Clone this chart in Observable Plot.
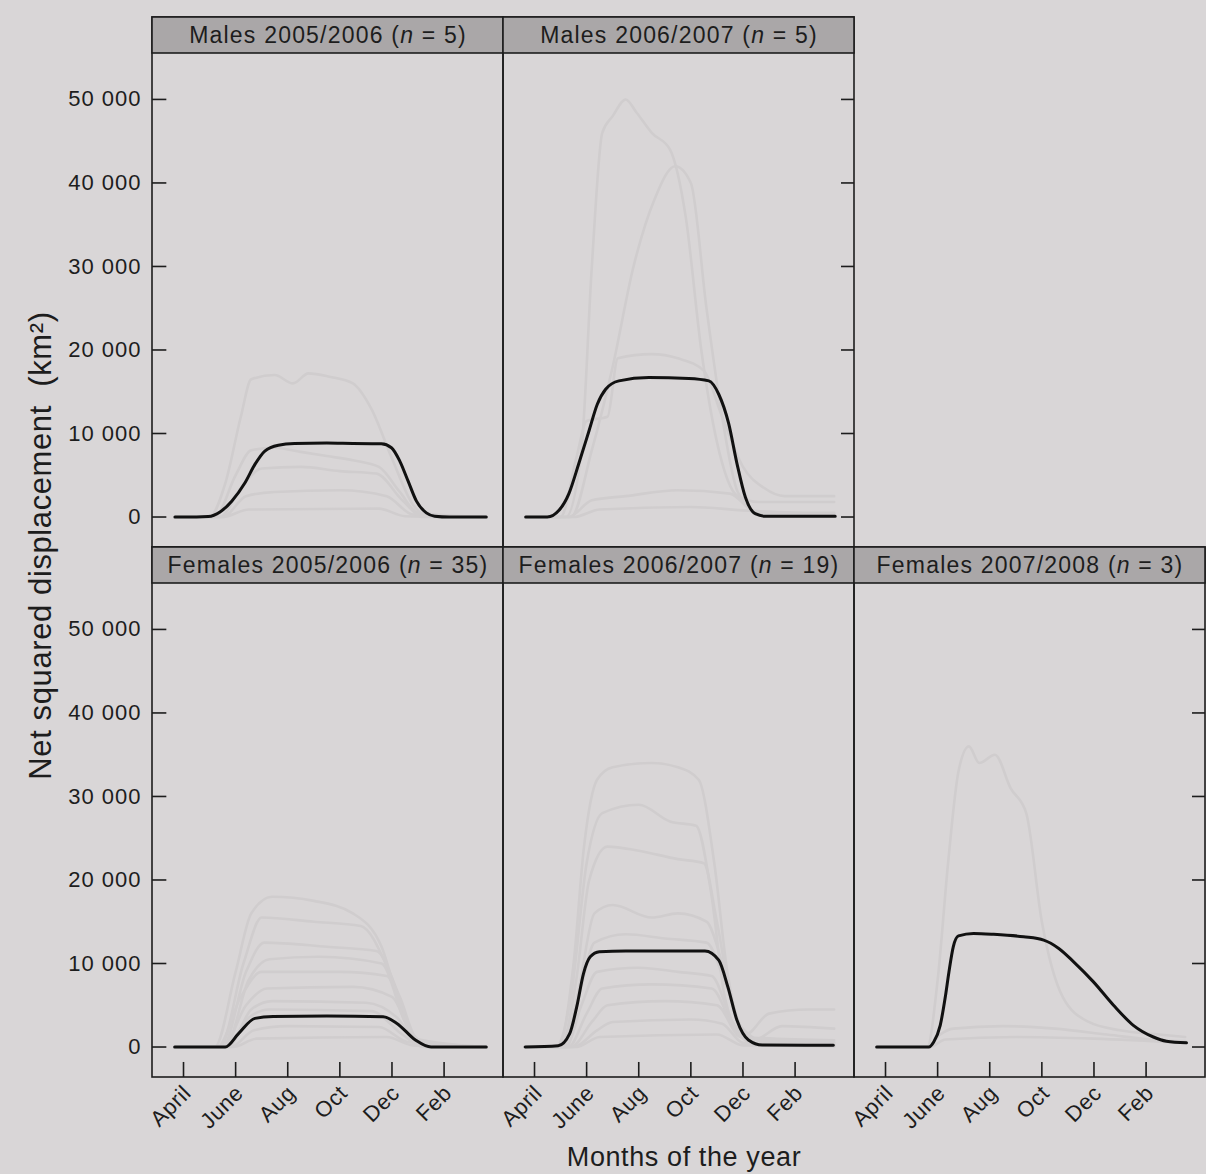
<!DOCTYPE html>
<html>
<head>
<meta charset="utf-8">
<script src="https://cdn.jsdelivr.net/npm/d3@7"></script>
<script src="https://cdn.jsdelivr.net/npm/@observablehq/plot@0.6"></script>
<style>
  html, body { margin: 0; padding: 0; background: #d9d6d7; overflow: hidden; }
  #chart { width: 1206px; height: 1174px; }
  .strip-label text { letter-spacing: 1.2px; }
  .ytick-label text { letter-spacing: 1px; }
  .xtick-label text { letter-spacing: 0.6px; }
  .axis-title text { letter-spacing: 0.6px; }
</style>
</head>
<body>
<div id="chart"></div>
<script>
// ---- panels ----
const panelNames = ["Males 2005/2006", "Males 2006/2007", "Females 2005/2006", "Females 2006/2007", "Females 2007/2008"];
const panelN = [5, 5, 35, 19, 3];
const panelCol = [0, 1, 0, 1, 2];
const panelRow = [0, 0, 1, 1, 1];

// ---- axes ----
// x: months since 1 April
const monthTicks = [0, 2, 4, 6, 8, 10];
const monthLabels = ["April", "June", "Aug", "Oct", "Dec", "Feb"];
const nsdTicks = [0, 10000, 20000, 30000, 40000, 50000];

// ---- fitted mean NSD curves (month, km²) ----
const meanMales0506 = [[-0.33,0],[0.5,0],[0.95,50],[1.4,600],[1.85,1900],[2.36,4100],[2.74,6300],[3.12,7900],[3.64,8600],[4.26,8800],[5.5,8850],[6.5,8800],[7.59,8770],[7.98,8300],[8.3,6700],[8.62,4300],[8.94,1900],[9.32,500],[9.64,100],[10.2,0],[11.62,0]];
const meanMales0607 = [[-0.34,0],[0.49,0],[0.94,800],[1.32,2800],[1.7,6400],[2.09,10300],[2.41,13500],[2.73,15300],[3.24,16300],[4.39,16700],[5.92,16600],[6.69,16300],[7.07,14700],[7.45,11200],[7.77,6400],[8.09,2400],[8.47,400],[8.86,100],[11.54,100]];
const meanFemales0506 = [[-0.34,0],[1.6,0],[2.12,1640],[2.74,3430],[3.44,3650],[5.5,3700],[7.66,3630],[8.19,2830],[8.9,840],[9.5,0],[11.62,0]];
const meanFemales0607 = [[-0.36,0],[0.91,150],[1.35,1600],[1.62,4800],[1.88,8800],[2.14,10800],[2.49,11400],[3.5,11500],[5,11500],[6.54,11500],[7.07,10400],[7.42,7200],[7.77,3200],[8.21,840],[8.74,240],[11.47,200]];
const meanFemales0708 = [[-0.34,0],[1.66,0],[1.85,600],[2.1,2600],[2.3,6100],[2.43,8900],[2.6,12000],[2.8,13300],[3.38,13600],[4.15,13500],[5.3,13200],[6.07,12800],[6.65,11800],[7.22,10200],[7.98,7800],[8.75,5000],[9.51,2600],[10.28,1200],[10.78,700],[11.55,500]];
const meanCurves = [meanMales0506, meanMales0607, meanFemales0506, meanFemales0607, meanFemales0708];

// ---- individual trajectories (faint, estimated) ----
const indMales0506 = [
  [[-0.3,0],[1.0,0],[1.6,4000],[2.2,12000],[2.6,16500],[3.5,17000],[4.2,16000],[4.8,17200],[5.6,16800],[6.5,16000],[7.2,13000],[8.0,7000],[8.8,1500],[9.5,0],[11.6,0]],
  [[-0.3,0],[1.2,0],[2.0,5000],[2.6,8000],[3.5,8300],[4.5,7800],[5.5,7300],[6.5,6800],[7.5,6000],[8.3,3000],[9.0,500],[11.6,0]],
  [[-0.3,0],[1.4,0],[2.2,3500],[3.0,5800],[4.5,6000],[6.0,5500],[7.4,5200],[8.4,2000],[9.2,0],[11.6,0]],
  [[-0.3,0],[1.5,0],[2.4,2500],[3.5,3000],[6.0,3200],[7.8,2500],[8.8,300],[11.6,0]],
  [[-0.3,0],[1.5,0],[2.5,900],[7.5,1000],[8.5,100],[11.6,0]]
];
const indMales0607 = [
  [[-0.3,0],[1.2,0],[1.8,8000],[2.2,30000],[2.6,46000],[3.0,48000],[3.5,50000],[3.9,48500],[4.5,46000],[5.2,44000],[5.8,36000],[6.4,20000],[7.0,9000],[7.8,2500],[8.6,1800],[11.5,1800]],
  [[-0.3,0],[1.4,0],[2.2,8000],[3.0,18000],[3.8,30000],[4.6,38000],[5.4,42000],[6.0,40000],[6.6,25000],[7.2,12000],[7.8,3000],[8.6,500],[11.5,500]],
  [[-0.3,0],[1.0,0],[1.6,7000],[2.0,11500],[2.8,12000],[3.2,19000],[4.5,19500],[5.5,19000],[6.5,17500],[7.2,12000],[8.0,6000],[8.8,3500],[9.6,2500],[11.5,2500]],
  [[-0.3,0],[1.3,0],[2.2,2000],[3.5,2500],[5.5,3200],[7.5,2800],[8.5,600],[11.5,400]],
  [[-0.3,0],[1.5,0],[2.5,900],[6.0,1200],[8.0,800],[11.5,300]]
];
const indFemales0506 = [
  [[-0.3,0],[1.2,0],[2.0,9000],[2.6,16000],[3.4,18000],[5.0,17500],[6.5,16000],[7.6,12000],[8.4,4000],[9.2,500],[11.6,0]],
  [[-0.3,0],[1.4,0],[2.3,10000],[3.0,15500],[5.0,15000],[6.8,14500],[7.9,9000],[8.8,1500],[9.6,0],[11.6,0]],
  [[-0.3,0],[1.5,0],[2.4,9000],[3.1,12500],[5.5,12000],[7.4,11500],[8.3,6000],[9.0,800],[11.6,0]],
  [[-0.3,0],[1.6,0],[2.5,8000],[3.3,10500],[5.2,10800],[7.6,10000],[8.5,3000],[9.3,0],[11.6,0]],
  [[-0.3,0],[1.3,0],[2.2,6000],[3.0,9000],[6.0,9000],[7.8,8500],[8.7,2000],[9.4,0],[11.6,0]],
  [[-0.3,0],[1.5,0],[2.4,5000],[3.2,7000],[6.5,7200],[8.0,6000],[8.9,1000],[11.6,0]],
  [[-0.3,0],[1.7,0],[2.6,4500],[3.4,5500],[7.0,5300],[8.2,3500],[9.0,500],[11.6,0]],
  [[-0.3,0],[1.6,0],[2.5,3500],[3.3,4500],[7.2,4300],[8.4,1500],[9.2,0],[11.6,0]],
  [[-0.3,0],[1.8,0],[2.7,2000],[4.0,2500],[7.5,2400],[8.6,600],[11.6,0]],
  [[-0.3,0],[1.9,0],[2.8,1000],[7.8,1200],[8.8,200],[11.6,0]]
];
const indFemales0607 = [
  [[-0.3,0],[0.9,0],[1.5,10000],[1.9,24000],[2.4,32000],[3.0,33500],[4.5,34000],[5.5,33500],[6.3,32000],[6.9,22000],[7.4,9000],[8.0,2000],[9.0,500],[11.5,300]],
  [[-0.3,0],[1.0,0],[1.6,8000],[2.1,20000],[2.8,24000],[4.0,23500],[5.5,22500],[6.5,22000],[7.0,15000],[7.6,5000],[8.4,1000],[11.5,500]],
  [[-0.3,0],[1.1,0],[1.7,7000],[2.3,16000],[3.0,17000],[4.5,15500],[5.5,16000],[6.6,15000],[7.3,9000],[7.9,2500],[9.0,500],[11.5,500]],
  [[-0.3,0],[1.0,0],[1.7,6000],[2.3,12500],[3.5,13500],[5.0,13000],[6.6,12500],[7.4,7000],[8.1,1500],[9.0,4000],[10.5,4500],[11.5,4500]],
  [[-0.3,0],[1.2,0],[1.8,5000],[2.4,9000],[4.0,9500],[5.5,9000],[6.8,8500],[7.6,3000],[8.4,800],[9.5,2500],[11.5,2200]],
  [[-0.3,0],[1.3,0],[2.0,4000],[2.6,7000],[4.5,7500],[6.8,7000],[7.7,2000],[8.5,300],[11.5,200]],
  [[-0.3,0],[1.4,0],[2.2,3000],[2.8,5000],[5.0,5500],[7.0,5000],[7.9,1200],[11.5,200]],
  [[-0.3,0],[1.5,0],[2.4,2000],[3.0,3000],[6.0,3300],[7.2,2800],[8.0,500],[11.5,100]],
  [[-0.3,0],[1.6,0],[2.5,1200],[7.0,1500],[8.0,200],[11.5,100]],
  [[-0.3,0],[0.8,0],[1.4,6000],[2.0,22000],[2.6,28000],[4.0,29000],[5.2,27000],[6.2,26500],[6.8,18000],[7.3,6000],[8.0,1200],[11.5,800]]
];
const indFemales0708 = [
  [[-0.3,0],[1.6,0],[2.0,8000],[2.4,22000],[2.8,33000],[3.2,36000],[3.6,34000],[4.2,35000],[4.8,31000],[5.4,28000],[6.0,15000],[6.8,6000],[7.8,3000],[9.0,2000],[10.5,1500],[11.5,1200]],
  [[-0.3,0],[1.6,0],[2.1,1500],[2.6,2200],[4.5,2500],[6.5,2200],[8.5,1500],[10.5,800],[11.5,700]],
  [[-0.3,0],[1.7,0],[2.3,900],[5.0,1200],[8.0,1000],[11.5,500]]
];
const indCurves = [indMales0506, indMales0607, indFemales0506, indFemales0607, indFemales0708];

// ---- build tables ----
const X0 = -1.19, X1 = 12.28;          // x domain (months since April 1)
const Y0 = -3650, Y1 = 59810;          // y domain incl. strip area
const STRIP = 55500;                   // bottom of strip
const panels = panelNames.map((name, i) => ({name, n: panelN[i], col: panelCol[i], row: panelRow[i]}));
const meanRows = panels.flatMap((p, i) => meanCurves[i].map(([m, v]) => ({col: p.col, row: p.row, m, v})));
const indRows = panels.flatMap((p, i) => indCurves[i].flatMap((pts, k) => pts.map(([m, v]) => ({col: p.col, row: p.row, id: i + "-" + k, m, v}))));
const leftPanels = panels.filter(p => p.col === 0);
const rightPanels = panels.filter(p => (p.row === 0 && p.col === 1) || (p.row === 1 && p.col === 2));
const bottomPanels = panels.filter(p => p.row === 1);
const leftTicks = leftPanels.flatMap(p => nsdTicks.map(v => ({col: p.col, row: p.row, v})));
const rightTicks = rightPanels.flatMap(p => nsdTicks.map(v => ({col: p.col, row: p.row, v})));
const bottomTicks = bottomPanels.flatMap(p => monthTicks.map((m, i) => ({col: p.col, row: p.row, m, label: monthLabels[i]})));
const fmt = d3.formatLocale({decimal: ".", thousands: " ", grouping: [3], currency: ["", ""]}).format(",");

const ink = "#1d1d1d";
const FONT = "Liberation Sans, Arial, Helvetica, sans-serif";

const chart = Plot.plot({
  width: 1206,
  height: 1174,
  marginTop: 16,
  marginBottom: 97,
  marginLeft: 151,
  marginRight: 0,
  style: {background: "#d9d6d7", fontFamily: FONT, color: ink},
  x: {domain: [X0, X1], axis: null},
  y: {domain: [Y0, Y1], axis: null},
  fx: {domain: [0, 1, 2], padding: 0, axis: null},
  fy: {domain: [0, 1], padding: 0, axis: null},
  marks: [
    // individual trajectories (very faint)
    Plot.line(indRows, {fx: "col", fy: "row", x: "m", y: "v", z: "id", stroke: "#d0cdce", strokeWidth: 2.6, curve: "monotone-x"}),
    // fitted mean curve
    Plot.line(meanRows, {fx: "col", fy: "row", x: "m", y: "v", stroke: "#111", strokeWidth: 3, curve: "monotone-x"}),
    // panel frame
    Plot.rect(panels, {fx: "col", fy: "row", x1: X0, x2: X1, y1: Y0, y2: Y1, fill: "none", stroke: ink, strokeWidth: 1.6}),
    // strip
    Plot.rect(panels, {fx: "col", fy: "row", x1: X0, x2: X1, y1: STRIP, y2: Y1, fill: "#aaa7a8", stroke: ink, strokeWidth: 1.6}),
    Plot.text(panels, {fx: "col", fy: "row", x: (X0 + X1) / 2, y: (STRIP + Y1) / 2, text: d => `${d.name} (n = ${d.n})`, fontSize: 23, fill: ink, className: "strip-label"}),
    // y ticks (inside)
    Plot.ruleY(leftTicks, {fx: "col", fy: "row", y: "v", x1: X0, x2: X0 + 0.55, stroke: ink, strokeWidth: 1.6}),
    Plot.ruleY(rightTicks, {fx: "col", fy: "row", y: "v", x1: X1 - 0.5, x2: X1, stroke: ink, strokeWidth: 1.6}),
    Plot.text(leftTicks, {fx: "col", fy: "row", x: X0, y: "v", text: d => fmt(d.v), textAnchor: "end", dx: -11, fontSize: 22, fill: ink, className: "ytick-label"}),
    // x ticks (inside)
    Plot.ruleX(bottomTicks, {fx: "col", fy: "row", x: "m", y1: Y0, y2: Y0 + 1800, stroke: ink, strokeWidth: 1.6}),
    Plot.text(bottomTicks, {fx: "col", fy: "row", x: "m", y: Y0, text: "label", rotate: -45, textAnchor: "end", dx: 4, dy: 12, fontSize: 22, fill: ink, className: "xtick-label"}),
    // axis titles
    Plot.text([{col: 0, row: 1}], {fx: "col", fy: "row", x: X0, y: Y1, text: () => "Net squared displacement  (km²)", rotate: -90, dx: -111, dy: -2, fontSize: 31, fill: ink, className: "axis-title"}),
    Plot.text([{col: 1, row: 1}], {fx: "col", fy: "row", x: (X0 + X1) / 2, y: Y0, text: () => "Months of the year", dx: 5, dy: 80, fontSize: 27, fill: ink, className: "axis-title"})
  ]
});

// italic "n" in strip labels
chart.querySelectorAll(".strip-label text").forEach(t => {
  const s = t.textContent;
  const i = s.indexOf("(n");
  if (i < 0) return;
  t.textContent = "";
  const ns = "http://www.w3.org/2000/svg";
  const a = document.createElementNS(ns, "tspan"); a.textContent = s.slice(0, i + 1);
  const b = document.createElementNS(ns, "tspan"); b.textContent = "n"; b.setAttribute("font-style", "italic");
  const c = document.createElementNS(ns, "tspan"); c.textContent = s.slice(i + 2);
  t.append(a, b, c);
});

document.getElementById("chart").append(chart);
</script>
</body>
</html>
